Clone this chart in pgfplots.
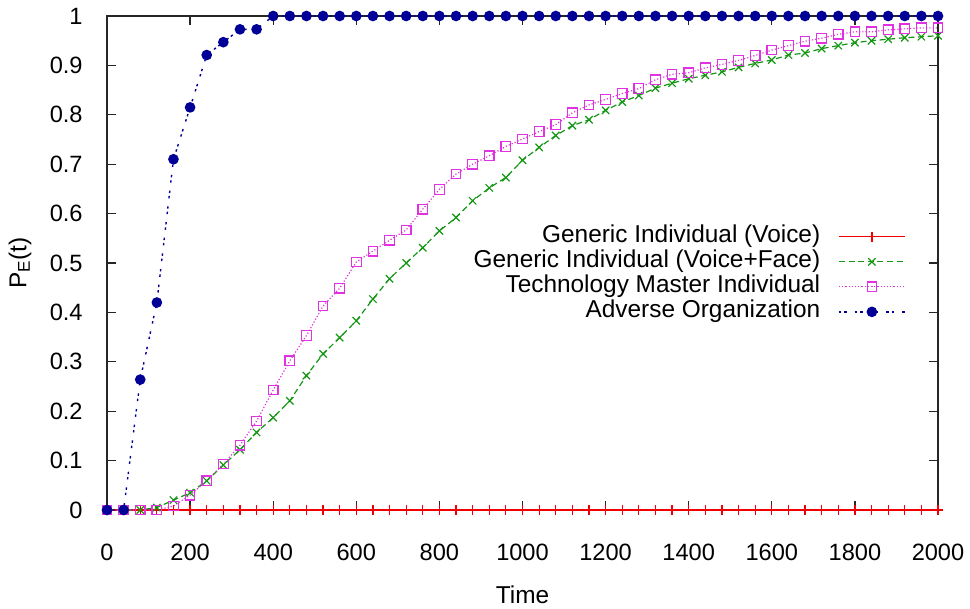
\documentclass[border=0pt]{standalone}
\usepackage{pgfplots}
\pgfplotsset{compat=1.18}
\usepackage{fontspec}
\setmainfont{Liberation Sans}
\definecolor{gpred}{RGB}{240,0,0}
\definecolor{gpgreen}{RGB}{20,150,20}
\definecolor{gpmag}{RGB}{225,50,225}
\definecolor{gpblue}{RGB}{0,0,150}
\begin{document}
\begin{tikzpicture}
\begin{axis}[
  scale only axis, width=415.5bp, height=247bp,
  xmin=0, xmax=2000, ymin=0, ymax=1,
  clip=false,
  xtick={0,200,400,600,800,1000,1200,1400,1600,1800,2000},
  ytick={0,0.1,0.2,0.3,0.4,0.5,0.6,0.7,0.8,0.9,1},
  /pgf/number format/assume math mode=true,
  /pgf/number format/1000 sep={},
  scaled x ticks=false,
  tick align=inside, major tick length=4.5bp,
  tick style={black!85, line width=0.6bp},
  axis line style={black!85, line width=0.7bp},
  tick label style={font=\fontsize{11.8bp}{13bp}\selectfont},
  xticklabel style={anchor=center, inner sep=0pt, yshift=-21bp},
  yticklabel style={anchor=east, inner sep=0pt, xshift=-12bp},
  every axis x label/.style={at={(axis description cs:0.5,0)}, yshift=-42.5bp, anchor=center, font=\fontsize{12.2bp}{14bp}\selectfont},
  every axis y label/.style={at={(axis description cs:0,0.5)}, xshift=-43.5bp, rotate=90, anchor=center, font=\fontsize{12.2bp}{14bp}\selectfont},
  xlabel={Time},
  ylabel={P\textsubscript{E}(t)},
  legend plot pos=right,
  legend cell align=right,
  legend image code/.code={\draw[mark repeat=2,mark phase=2,#1] plot coordinates {(0bp,0bp)(16.5bp,0bp)(33bp,0bp)};},
  legend style={at={(0.9615,0.477)}, anchor=east, draw=none, fill=none, inner sep=0pt,
    column sep=9bp, row sep=0pt, font=\fontsize{12.2bp}{14bp}\selectfont,
    nodes={inner sep=0pt, text height=9bp, text depth=3.5bp}},
]
\addplot[gpred, line width=0.6bp, mark=+, mark size=2.6bp, mark options={solid}] coordinates {
(0,0)(40,0)(80,0)(120,0)(160,0)(200,0)(240,0)(280,0)(320,0)(360,0)
(400,0)(440,0)(480,0)(520,0)(560,0)(600,0)(640,0)(680,0)(720,0)(760,0)
(800,0)(840,0)(880,0)(920,0)(960,0)(1000,0)(1040,0)(1080,0)(1120,0)(1160,0)
(1200,0)(1240,0)(1280,0)(1320,0)(1360,0)(1400,0)(1440,0)(1480,0)(1520,0)(1560,0)
(1600,0)(1640,0)(1680,0)(1720,0)(1760,0)(1800,0)(1840,0)(1880,0)(1920,0)(1960,0)(2000,0)};
\addlegendentry{Generic Individual (Voice)}
\addplot[gpgreen, line width=0.6bp, dash pattern=on 3bp off 1.8bp, mark=x, mark size=2.6bp, mark options={solid}] coordinates {
(0,0)(40,0)(80,0)(120,0.005)(160,0.020)(200,0.035)(240,0.059)(280,0.091)(320,0.122)(360,0.157)
(400,0.187)(440,0.221)(480,0.272)(520,0.316)(560,0.349)(600,0.383)(640,0.427)(680,0.468)(720,0.500)(760,0.531)
(800,0.565)(840,0.592)(880,0.626)(920,0.652)(960,0.673)(1000,0.708)(1040,0.734)(1080,0.758)(1120,0.778)(1160,0.790)
(1200,0.809)(1240,0.826)(1280,0.839)(1320,0.854)(1360,0.864)(1400,0.873)(1440,0.880)(1480,0.887)(1520,0.896)(1560,0.904)
(1600,0.911)(1640,0.921)(1680,0.925)(1720,0.934)(1760,0.940)(1800,0.946)(1840,0.950)(1880,0.953)(1920,0.956)(1960,0.958)(2000,0.960)};
\addlegendentry{Generic Individual (Voice+Face)}
\addplot[gpmag, line width=0.6bp, dash pattern=on 0.6bp off 1bp, mark=square, mark size=2.4bp, mark options={solid}] coordinates {
(0,0)(40,0)(80,0)(120,0)(160,0.008)(200,0.030)(240,0.059)(280,0.093)(320,0.131)(360,0.180)
(400,0.243)(440,0.302)(480,0.353)(520,0.413)(560,0.449)(600,0.502)(640,0.524)(680,0.546)(720,0.567)(760,0.609)
(800,0.649)(840,0.680)(880,0.700)(920,0.717)(960,0.736)(1000,0.751)(1040,0.766)(1080,0.780)(1120,0.804)(1160,0.820)
(1200,0.831)(1240,0.843)(1280,0.853)(1320,0.871)(1360,0.882)(1400,0.885)(1440,0.895)(1480,0.902)(1520,0.910)(1560,0.920)
(1600,0.931)(1640,0.940)(1680,0.949)(1720,0.955)(1760,0.963)(1800,0.968)(1840,0.968)(1880,0.972)(1920,0.974)(1960,0.976)(2000,0.976)};
\addlegendentry{Technology Master Individual}
\addplot[gpblue, line width=0.7bp, dash pattern=on 1.2bp off 1.5bp on 1.2bp off 4bp, mark=*, mark size=2.3bp, mark options={solid}] coordinates {
(0,0)(40,0)(80,0.264)(120,0.420)(160,0.710)(200,0.815)(240,0.921)(280,0.947)(320,0.973)(360,0.973)
(400,1)(440,1)(480,1)(520,1)(560,1)(600,1)(640,1)(680,1)(720,1)(760,1)
(800,1)(840,1)(880,1)(920,1)(960,1)(1000,1)(1040,1)(1080,1)(1120,1)(1160,1)
(1200,1)(1240,1)(1280,1)(1320,1)(1360,1)(1400,1)(1440,1)(1480,1)(1520,1)(1560,1)
(1600,1)(1640,1)(1680,1)(1720,1)(1760,1)(1800,1)(1840,1)(1880,1)(1920,1)(1960,1)(2000,1)};
\addlegendentry{Adverse Organization}
\end{axis}
\pgfresetboundingbox
\path[use as bounding box] ([xshift=-53.5bp,yshift=-49.5bp]current axis.south west) rectangle ++(485bp,304.5bp);
\end{tikzpicture}
\end{document}
